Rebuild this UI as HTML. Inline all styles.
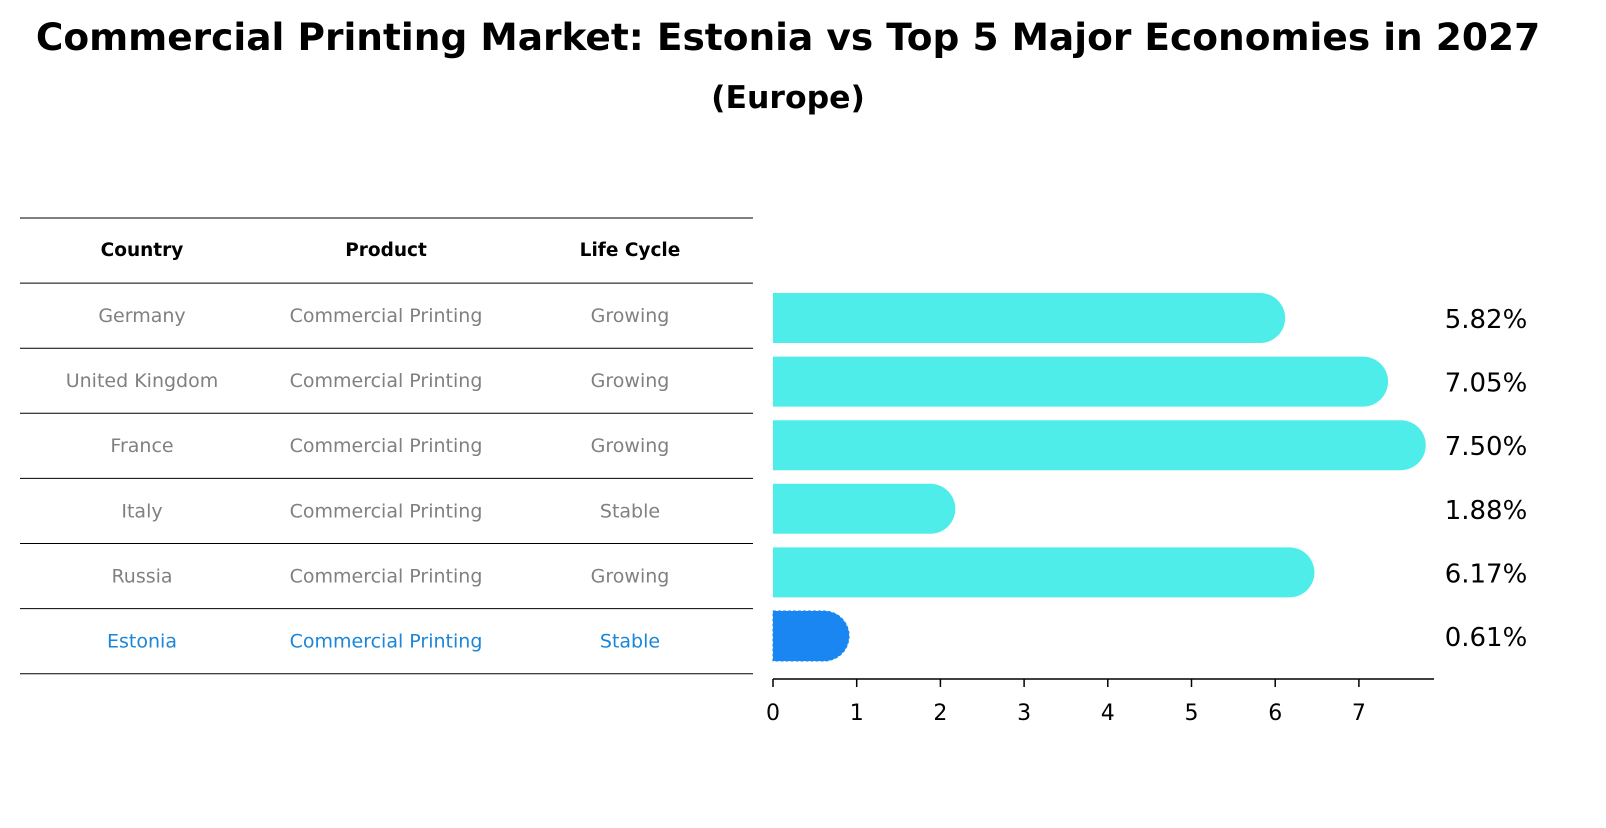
<!DOCTYPE html>
<html><head><meta charset="utf-8"><style>
body{margin:0;background:#fff;font-family:"Liberation Sans","DejaVu Sans",sans-serif}
</style></head><body>
<svg width="1606" height="823" xmlns="http://www.w3.org/2000/svg">
<text x="788" y="50" text-anchor="middle" font-size="37.5" font-weight="bold" font-family="DejaVu Sans,Liberation Sans,sans-serif">Commercial Printing Market: Estonia vs Top 5 Major Economies in 2027</text>
<text x="788" y="108" text-anchor="middle" font-size="31.5" font-weight="bold" font-family="DejaVu Sans,Liberation Sans,sans-serif">(Europe)</text>
<g id="table"></g>
<g id="bars"></g>
<g id="axis"></g>
</svg>
<script>
const countries=["Germany","United Kingdom","France","Italy","Russia","Estonia"];
const products=["Commercial Printing","Commercial Printing","Commercial Printing","Commercial Printing","Commercial Printing","Commercial Printing"];
const lifecycles=["Growing","Growing","Growing","Stable","Growing","Stable"];
const values=[5.82,7.05,7.50,1.88,6.17,0.61];
const ticks=[0,1,2,3,4,5,6,7];
const NS="http://www.w3.org/2000/svg";
function mk(t,a,p){const e=document.createElementNS(NS,t);for(const k in a)e.setAttribute(k,a[k]);p.appendChild(e);return e;}
const x=v=>773+v*83.7;
const rowY=i=>318+i*63.6;
const tb=document.getElementById('table'),bg=document.getElementById('bars'),ax=document.getElementById('axis');
const cols=[142,386,630];
const hdr=["Country","Product","Life Cycle"];
for(let i=0;i<=7;i++){const l=mk('line',{x1:20,x2:753,y1:218+i*65.1,y2:218+i*65.1,stroke:'#000','stroke-width':1},tb);

}
hdr.forEach((h,j)=>{const t=mk('text',{x:cols[j],y:256,'text-anchor':'middle','font-size':18.5,'font-weight':'bold','font-family':'DejaVu Sans,sans-serif'},tb);t.textContent=h;

});
countries.forEach((c,i)=>{const y=322+i*65.1;const col=i==5?'#1a86d9':'#808080';
[c,products[i],lifecycles[i]].forEach((s,j)=>{const t=mk('text',{x:cols[j],y:y,'text-anchor':'middle','font-size':19,fill:col,'font-family':'DejaVu Sans,sans-serif'},tb);t.textContent=s;

});});
values.forEach((v,i)=>{const yc=rowY(i),h=50,r=25;const col=i==5?'#1a86f2':'#4eede9';
const p=mk('path',{d:`M${x(0)},${yc-h/2} H${x(v)} A${r},${r} 0 0 1 ${x(v)},${yc+h/2} H${x(0)} Z`,fill:col},bg);
if(i==5){p.setAttribute('stroke','#1a86f2');p.setAttribute('stroke-dasharray','3,2');}


const t=mk('text',{x:1486,y:yc+10,'text-anchor':'middle','font-size':26,'font-family':'DejaVu Sans,sans-serif'},bg);t.textContent=v.toFixed(2)+'%';

});
const al=mk('line',{x1:773,x2:1434,y1:679,y2:679,stroke:'#000','stroke-width':1.5},ax);


ticks.forEach(v=>{const tk=mk('line',{x1:x(v),x2:x(v),y1:679,y2:687,stroke:'#000','stroke-width':1.5},ax);


const t=mk('text',{x:x(v),y:720,'text-anchor':'middle','font-size':22,'font-family':'DejaVu Sans,sans-serif'},ax);t.textContent=v;

});
</script>
</body></html>
